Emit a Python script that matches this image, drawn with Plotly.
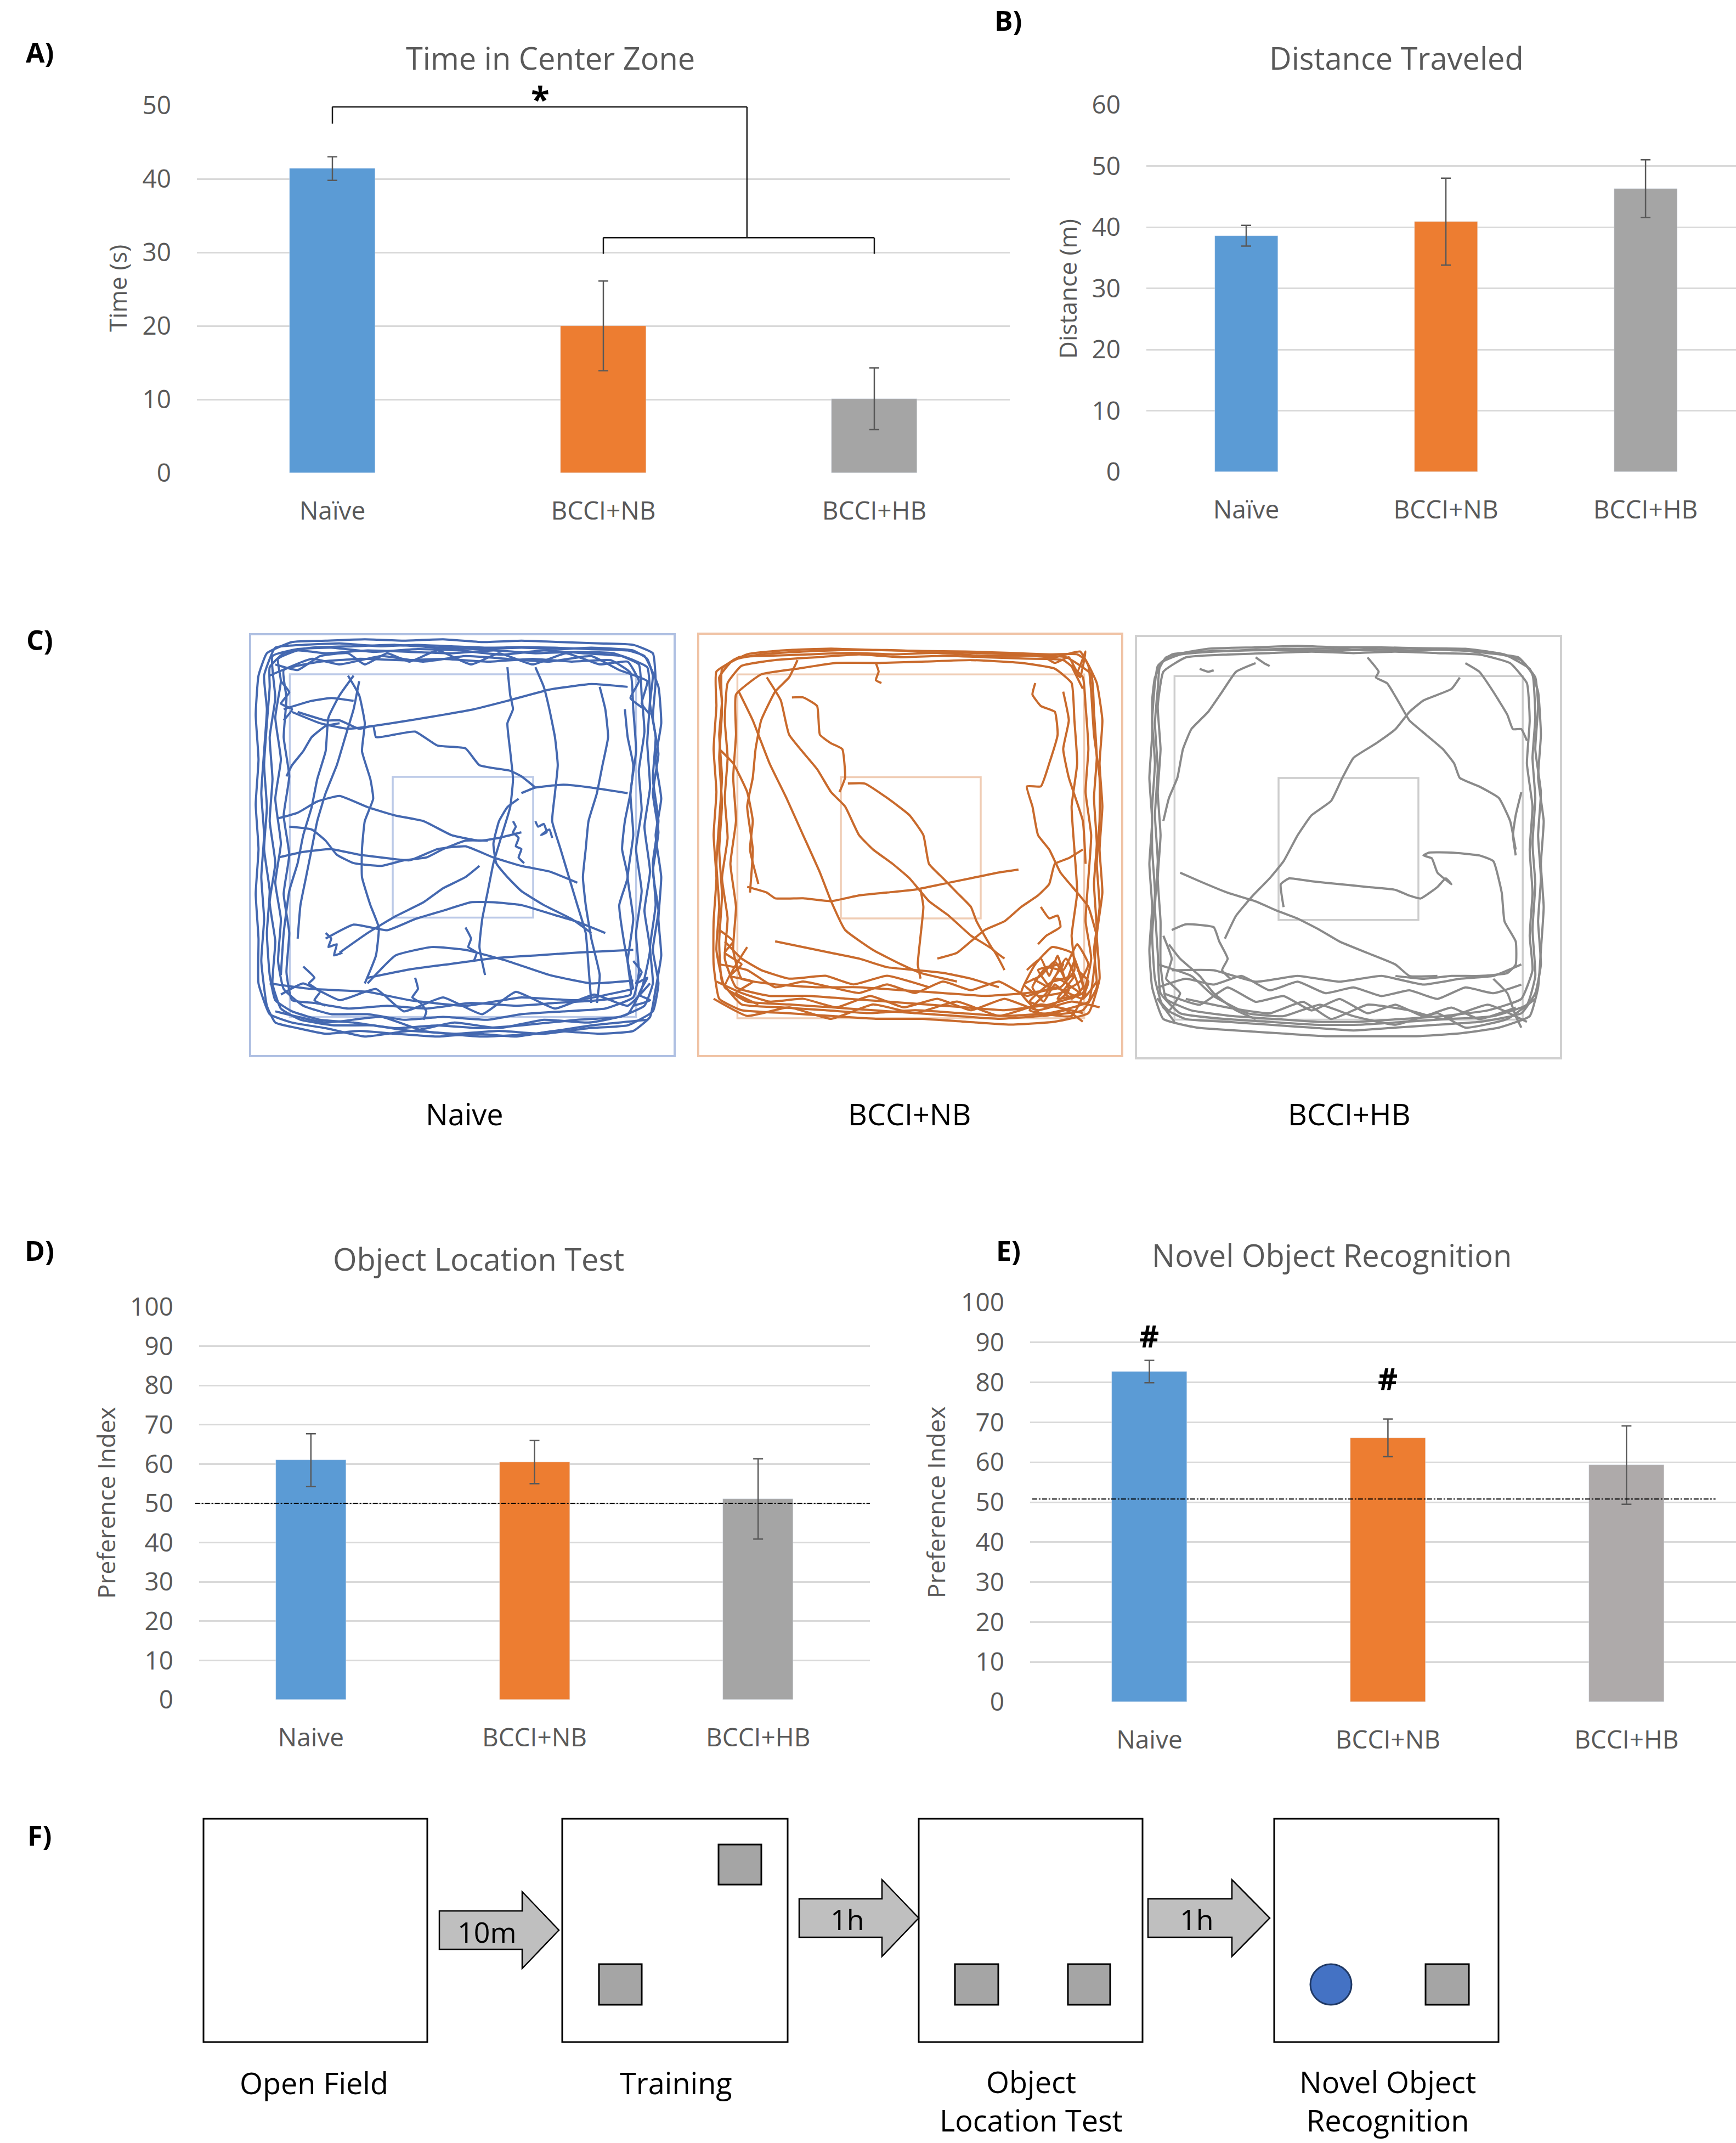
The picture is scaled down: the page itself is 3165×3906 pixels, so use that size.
import plotly.graph_objects as go

# ---------------- data ----------------
CATS_AB = ["Naïve", "BCCI+NB", "BCCI+HB"]
CATS_DE = ["Naive", "BCCI+NB", "BCCI+HB"]
TIME_CENTER = [41.4, 20.0, 10.1]
TIME_CENTER_ERR = [1.6, 6.1, 4.2]
DISTANCE = [38.6, 40.9, 46.3]
DISTANCE_ERR = [1.7, 7.1, 4.7]
OLT_INDEX = [61.0, 60.5, 51.1]
OLT_ERR = [6.7, 5.5, 10.2]
NOR_INDEX = [82.7, 66.1, 59.3]
NOR_ERR = [2.8, 4.7, 9.8]
OLT_CHANCE = 50.0
NOR_CHANCE = 50.8
NOR_HASH_Y = [91.8, 81.0]          # '#' markers above Naive and BCCI+NB
SIG_TOP_Y, SIG_LEFT_END = 49.8, 47.5
SIG_JOIN_X = 1.53
SIG_LOW_Y, SIG_LOW_END = 32.0, 29.8

COLORS = ["#5B9BD5", "#ED7D31", "#A5A5A5"]
COLORS_E = ["#5B9BD5", "#ED7D31", "#AEAAAA"]
TXT = "#595959"
GRID = "#D9D9D9"
FONT = "Open Sans"

# ---- open-field tracks (arena units, y measured downward) ----
NAIVE_RANGE = ([3.0, 154.8], [154.0, 3.2])
NAIVE_INNER = [17.2, 141.0, 17.5, 140.0]
NAIVE_CENTER = [54.0, 104.2, 54.2, 104.5]
NAIVE_PATHS = [
    [(10,15),(15,10),(25,8),(40,7.5),(55,7),(70,8),(85,8.5),(100,8),(115,8.5),(125,8),(140,9),(145,12),(147,18),(146,28),(148,40),(147,55),(149,70),(147,85),(148,100),(146,115),(147,128),(144,136),(135,140),(120,141),(100,143),(85,144),(70,143),(55,144),(40,142),(28,141),(18,138),(12,134),(10,125),(9,110),(10,95),(8,80),(9,65),(8,50),(9,35),(10,22),(10,15)],
    [(13,12),(20,9),(30,10),(45,9),(60,9.5),(75,10),(90,9),(105,10),(120,9.5),(133,10),(142,14),(143,25),(144,38),(142,52),(143,66),(141,80),(143,95),(141,110),(142,124),(140,133),(130,137),(115,138),(100,139),(88,141),(72,140),(58,141),(45,139),(32,139),(22,136),(15,130),(13,120),(14,105),(12,92),(14,78),(12,62),(14,48),(12,33),(14,20),(13,12)],
    [(12,8),(22,7),(35,6.5),(50,7.5),(62,7),(75,7.5),(88,8),(100,7.8),(112,8),(124,8.5),(138,9),(144,11),(149,22),(150,35),(148,48),(150,62),(148,75),(150,90),(149,105),(150,118),(148,130),(146,140),(140,145),(128,146),(112,145),(98,147),(84,146),(70,147),(55,146),(42,145),(30,146),(20,144),(12,142),(9,136),(7,120),(8,105),(7,90),(8,75),(7,60),(8,45),(9,30),(8,18),(12,8)],
    [(15,16),(28,13),(42,12),(58,12.5),(72,12),(88,13),(104,12),(118,13),(132,12.5),(139,17),(140,30),(141,45),(139,60),(140,75),(138,90),(140,105),(138,120),(139,132),(128,134),(112,135),(98,136),(82,135),(66,137),(52,136),(38,137),(26,135),(18,134),(16,124),(17,110),(15,96),(17,82),(15,68),(17,54),(15,40),(16,26),(15,16)],
    [(11,11),(20,8.5),(32,8),(47,9.5),(63,8.5),(78,9),(93,10.5),(108,9),(122,10),(136,11),(145,15),(146,26),(145,42),(146,58),(144,72),(146,88),(144,102),(146,116),(143,130),(138,139),(124,142),(108,141),(92,144),(76,142),(61,145),(47,143),(33,143),(21,141),(14,137),(11,128),(12,113),(10,99),(12,85),(10,70),(11,55),(10,40),(12,26),(11,11)],
    [(9,10),(18,6),(30,5.5),(44,5),(58,5.5),(72,5),(86,6),(100,5.5),(114,6),(128,6.5),(140,7),(147,10),(148,20),(147,33),(149,46),(147,60),(149,74),(147,88),(149,102),(147,116),(149,128),(147,138),(138,143),(124,144),(108,146),(92,145),(76,146),(60,145),(44,147),(30,144),(18,142),(10,139),(6,128),(6,112),(5,96),(6,80),(5,64),(6,48),(5,32),(6,18),(9,10)],
    [(10,128),(25,130),(45,131),(60,134),(80,136),(100,133),(120,134),(140,130)],
    [(12,138),(30,142),(50,140),(65,145),(85,147),(105,146),(125,143),(145,141)],
    [(14,132),(22,128),(35,134),(48,130),(58,138),(72,133),(86,139),(98,131),(112,137),(126,132),(138,136),(146,128)],
    [(10,18),(25,12),(35,14),(50,11),(65,13),(80,11),(95,12),(110,13),(125,11),(135,16),(145,20),(143,28),(146,32)],
    [(12,14),(20,16),(28,11),(38,10),(44,14),(52,10),(60,13),(70,9),(82,14),(92,10),(104,14),(116,10),(128,14),(138,13),(142,20),(139,26),(144,30)],
    [(18,31),(28,35),(38,37),(47,36),(60,34),(72,32),(83,30),(95,27),(110,23),(125,21),(138,22)],
    [(20,31),(30,34),(35,34),(42,37),(47,36),(48,40),(55,39),(62,38),(70,43),(80,44),(85,50),(96,52),(100,54),(105,58)],
    [(38,18),(42,25),(44,35),(43,45),(46,55),(47,62),(44,70),(43,80),(43,90),(46,100),(49,108),(48,118),(44,128)],
    [(95,15),(96,25),(97,30),(95,35),(96,45),(97,55),(96,65),(93,75),(90,85),(88,95),(86,105),(85,115),(87,125)],
    [(105,15),(108,22),(110,30),(112,40),(113,50),(112,60),(111,70),(114,80),(117,90),(120,100),(123,110),(124,122),(125,135)],
    [(128,22),(130,30),(131,40),(129,50),(127,60),(124,70),(123,80),(122,90),(123,100),(125,112),(128,125),(127,135)],
    [(137,30),(138,40),(140,50),(139,60),(137,70),(136,80),(138,90),(135,100),(137,115),(140,130)],
    [(40,18),(35,25),(31,33),(30,45),(27,55),(25,65),(22,75),(20,85),(17,95),(15,110),(14,125)],
    [(42,20),(40,30),(37,40),(34,50),(30,60),(27,70),(25,80),(23,90),(21,100),(20,112)],
    [(13,69),(20,67),(27,63),(35,61),(45,65),(55,68),(65,70),(75,75),(85,77),(92,76),(100,74)],
    [(13,83),(22,81),(32,80),(42,82),(50,83),(60,84),(70,80),(80,79),(90,83),(100,86),(110,88),(120,92)],
    [(17,72),(25,73),(30,77),(34,82),(40,85),(50,86),(58,84),(66,83),(72,80),(80,77),(88,77)],
    [(100,60),(105,58),(115,57),(125,58),(138,60)],
    [(99,62),(95,65),(92,70),(90,78),(91,85),(95,90),(100,95),(108,100),(118,105),(125,110)],
    [(30,112),(40,107),(52,109),(62,105),(72,102),(82,99),(90,99),(100,100),(110,103),(120,106),(130,110)],
    [(35,117),(45,110),(55,104),(65,99),(72,94),(80,90),(85,86)],
    [(45,126),(60,123),(75,121),(90,119),(105,118),(120,117),(140,116)],
    [(45,128),(55,118),(68,115),(80,116),(95,120),(110,125),(125,128),(140,127)],
    [(16,54),(18,50),(22,45),(25,40),(30,36),(35,35)],
    [(15,30),(25,27),(32,26),(40,27)],
    [(97,70),(98,72),(97,74),(99,76),(98,79),(100,80),(99,83),(101,85)],
    [(105,70),(106,72),(108,71),(109,74),(107,75),(110,73),(111,76)],
    [(30,110),(32,112),(31,115),(34,114),(33,118),(36,117)],
    [(62,126),(63,130),(61,133),(64,135),(66,138),(65,141)],
    [(22,122),(26,126),(24,128),(28,131),(26,134),(30,136)],
    [(80,108),(82,112),(81,115),(84,117),(83,120)],
    [(140,120),(143,124),(141,128),(145,126),(142,132),(146,134),(140,136)],
    [(14,20),(17,24),(14,28),(18,30),(15,34)],
]

NB_RANGE = ([2.5, 154.1], [152.0, 4.8])
NB_INNER = [16.5, 140.5, 19.0, 138.8]
NB_CENTER = [53.5, 103.5, 54.8, 104.0]
NB_PATHS = [
    [(10,20),(15,14),(25,12),(40,11),(55,10.5),(70,10.5),(85,11),(100,11.5),(115,12),(130,13),(139,11),(142,16),(143,25),(144,40),(146,55),(146,70),(145,85),(146,100),(144,115),(145,128),(140,136),(125,138),(110,139),(95,138),(80,137),(65,136),(50,135),(35,134),(20,133),(12,128),(9,115),(10,100),(9,85),(10,70),(11,55),(10,40),(11,28),(10,20)],
    [(13,22),(18,16),(30,14),(45,13),(60,12),(75,13),(90,12.5),(105,13),(120,13.5),(133,14),(140,20),(141,30),(142,45),(141,60),(143,75),(142,90),(141,105),(143,118),(140,130),(128,134),(112,136),(98,135),(84,134),(70,133),(56,132),(42,131),(28,131),(16,128),(12,118),(13,104),(11,90),(13,76),(12,62),(13,48),(12,35),(13,22)],
    [(9,18),(20,12),(35,10.5),(50,10),(66,10.5),(82,10.8),(98,11),(114,11.5),(128,12),(138,12),(141,14),(145,22),(147,35),(146,50),(147,65),(146,80),(147,95),(145,110),(146,125),(142,137),(130,140),(114,141),(98,140),(82,139),(66,139),(50,138),(34,137),(18,136),(10,132),(8,120),(8,105),(9,90),(8,75),(9,60),(8,45),(9,30),(9,18)],
    [(16,26),(25,19),(38,17),(52,15),(68,15),(84,14.5),(100,14),(118,15),(130,17),(136,22),(137,35),(138,50),(136,65),(137,80),(138,95),(136,110),(137,122),(132,128),(120,130),(105,131),(90,130),(75,129),(60,128),(45,128),(30,127),(18,125),(15,115),(16,100),(14,85),(16,70),(15,55),(16,40),(16,26)],
    [(11,17),(17,13),(28,12.5),(42,12),(57,11.5),(72,12),(88,11.5),(104,12.5),(120,12.5),(134,13),(143,19),(144,32),(145,48),(144,62),(145,78),(144,92),(145,108),(144,122),(142,133),(128,137),(112,138),(96,137),(80,136),(64,137),(48,136),(32,135),(18,134),(11,126),(10,112),(11,96),(10,80),(11,64),(10,48),(11,32),(11,17)],
    [(10,120),(20,122),(30,128),(40,126),(50,128),(60,130),(70,127),(80,130),(90,126),(100,129),(110,126),(120,131),(130,128),(140,132),(145,126)],
    [(8,132),(20,138),(35,135),(50,139),(65,134),(80,137),(95,133),(110,138),(125,134),(140,137)],
    [(12,112),(18,118),(25,122),(35,125),(48,124),(58,127),(70,124),(85,128)],
    [(9,126),(18,130),(28,133),(40,132),(52,135),(64,131),(76,135),(88,132),(100,136),(112,132),(124,136),(136,133),(146,135)],
    [(10,108),(15,112),(12,116),(18,120),(14,124),(22,126),(16,130),(24,134),(12,128),(20,114)],
    [(120,122),(125,118),(128,124),(131,117),(134,126),(137,119),(140,128),(136,132),(130,127),(126,133),(122,128),(127,121),(133,122),(138,113),(142,120),(139,126),(132,130),(124,131),(119,127),(125,124),(130,119),(135,129),(128,135),(121,133),(131,125),(141,131),(136,116),(129,114),(123,120),(118,130),(126,138),(134,136),(140,140)],
    [(122,125),(128,128),(124,122),(133,120),(129,126),(137,124),(131,132),(139,130),(134,118),(127,130),(121,136),(136,138),(142,126),(138,122)],
    [(125,12),(130,15),(135,13),(138,18),(141,11),(139,20),(136,16),(140,24)],
    [(17,25),(22,35),(28,50),(34,62),(40,75),(46,88),(50,98),(55,108),(65,115),(75,120),(82,123),(95,126)],
    [(27,20),(32,28),(35,40),(45,52),(50,60),(55,65),(60,75),(65,80),(72,85),(78,90),(85,98),(92,103),(100,110),(108,115),(112,122)],
    [(38,14),(35,20),(30,25),(25,35),(23,45),(22,55),(20,65),(22,80),(21,95)],
    [(36,27),(40,27),(45,30),(46,40),(50,43),(54,45),(55,55),(53,60)],
    [(56,57),(62,57),(70,62),(78,68),(83,75),(85,85),(90,90),(95,95),(100,100),(102,105),(108,115),(112,118)],
    [(20,93),(27,95),(30,97),(40,97),(50,98),(60,96),(70,95),(80,94),(90,92),(100,90),(110,88),(117,87)],
    [(30,112),(40,114),(50,116),(60,118),(70,121),(80,122),(90,123),(100,125),(110,128)],
    [(82,94),(83,100),(82,110),(81,120),(82,125)],
    [(140,80),(135,83),(130,85),(128,92),(124,96),(118,100),(112,105),(105,108),(100,112),(95,116),(88,118)],
    [(123,22),(122,26),(125,30),(130,32),(131,40),(128,50),(125,58),(120,58),(122,65),(124,75),(128,80),(132,88),(138,95),(142,100),(145,110)],
    [(133,25),(135,35),(133,45),(135,55),(140,70),(141,85)],
    [(10,45),(15,50),(20,60),(22,70),(21,80),(24,92)],
    [(66,15),(67,18),(66,21),(68,22)],
    [(125,100),(128,104),(131,103),(132,107),(127,110),(124,113)],
]

HB_RANGE = ([2.2, 154.2], [152.7, 5.5])
HB_INNER = [16.0, 140.5, 19.5, 139.2]
HB_CENTER = [53.2, 103.2, 55.0, 104.5]
HB_PATHS = [
    [(10,16),(15,12),(25,11),(40,10.5),(55,10),(70,10),(85,10.5),(100,10),(115,10.5),(128,11),(140,14),(145,20),(146,30),(145,45),(147,60),(146,75),(147,90),(146,105),(147,120),(145,130),(140,137),(125,140),(110,141),(95,142),(80,143),(65,142),(50,141),(35,140),(20,139),(12,135),(9,125),(8,110),(9,95),(8,80),(8,65),(9,50),(8,35),(9,22),(10,16)],
    [(12,18),(20,13),(35,12),(50,11.5),(65,11),(80,11.5),(95,11),(110,11.5),(125,12),(136,15),(142,22),(143,35),(142,50),(144,65),(143,80),(144,95),(143,110),(144,122),(140,132),(128,136),(112,138),(97,139),(82,140),(67,140),(52,139),(37,138),(22,136),(13,132),(11,120),(11,105),(10,90),(11,75),(10,60),(11,45),(10,30),(12,18)],
    [(9,20),(13,13),(28,10),(45,9.5),(60,9),(75,9.5),(90,9.5),(105,9.8),(120,10),(134,12),(143,17),(146,25),(147,40),(146,55),(148,70),(147,85),(148,100),(147,115),(146,128),(143,138),(132,142),(118,144),(102,145),(86,145),(70,145),(54,144),(38,143),(24,142),(12,139),(8,128),(7,115),(8,100),(7,85),(8,70),(7,55),(8,40),(8,28),(9,20)],
    [(11,15),(18,12),(30,11),(44,10.5),(58,10.5),(72,10.8),(86,10.2),(100,10.8),(114,10.2),(128,11.5),(139,13),(144,19),(145,34),(144,48),(145,62),(144,78),(145,92),(144,108),(145,124),(142,134),(130,138),(114,139),(98,140),(82,141),(66,141),(50,140),(34,139),(18,137),(11,130),(10,116),(9,100),(10,84),(9,68),(10,52),(9,36),(10,24),(11,15)],
    [(10,128),(20,125),(30,127),(40,124),(50,129),(60,126),(70,130),(80,128),(90,131),(100,129),(110,132),(120,128),(130,130),(140,127)],
    [(12,130),(25,134),(35,128),(45,133),(55,131),(65,136),(75,132),(85,137),(95,134),(105,138),(115,135),(125,139),(138,135)],
    [(10,120),(22,124),(30,131),(42,137),(55,138),(68,134),(80,138),(95,141),(110,137),(120,142),(135,139),(145,132)],
    [(15,122),(30,122),(45,126),(60,124),(75,126),(90,124),(105,127),(118,125),(130,124),(140,120)],
    [(20,132),(35,135),(50,137),(62,133),(72,139),(85,134),(100,136),(112,139),(128,134),(142,140)],
    [(14,113),(18,118),(25,124),(30,130),(38,136),(45,139)],
    [(130,125),(135,130),(138,138),(140,142)],
    [(12,110),(15,118),(13,125),(18,130),(14,136),(10,132),(16,140)],
    [(18,88),(25,91),(35,95),(45,98),(52,101),(60,104),(68,108),(75,112),(85,116),(95,120),(100,124),(110,124)],
    [(34,111),(38,103),(44,96),(50,90),(55,84),(60,75),(65,68),(72,63),(76,55),(80,48),(88,43),(95,38),(100,32),(105,28),(115,24),(118,20)],
    [(45,15),(38,18),(33,25),(28,32),(22,38),(19,45),(17,55),(14,62),(12,70)],
    [(85,13),(89,18),(88,20),(92,22),(97,30),(100,35),(106,40),(112,45),(116,50),(118,55),(125,58),(132,62),(136,70),(138,80)],
    [(55,100),(54,92),(57,90),(65,91),(75,92),(85,93),(95,94),(100,96),(104,97),(110,93),(113,90),(115,92),(110,88),(108,83),(105,82),(107,81),(115,81),(125,82),(130,84),(133,95),(134,105),(138,112),(138,120),(135,123),(125,124),(115,124),(105,125),(95,124)],
    [(15,108),(20,106),(30,107),(32,112),(35,118),(33,122),(36,125)],
    [(120,15),(125,18),(130,25),(135,33),(137,38),(140,38),(142,42)],
    [(140,60),(138,68),(137,75),(138,82)],
    [(25,17),(28,18),(30,17.5)],
    [(45,13),(48,15),(50,16)],
]

# ---------------- figure ----------------
W, H = 3165, 3906


def px(x, y):
    return x / W, 1 - y / H


def flatten(paths):
    xs, ys = [], []
    for p in paths:
        for a, b in p:
            xs.append(a)
            ys.append(b)
        xs.append(None)
        ys.append(None)
    return xs, ys


fig = go.Figure()
err_style = dict(type="data", color=TXT, thickness=2.5, width=9, visible=True)

fig.add_trace(go.Bar(x=[0, 1, 2], y=TIME_CENTER, width=0.316, marker_color=COLORS,
                     error_y=dict(array=TIME_CENTER_ERR, **err_style),
                     xaxis="x", yaxis="y", showlegend=False))
fig.add_trace(go.Bar(x=[0, 1, 2], y=DISTANCE, width=0.316, marker_color=COLORS,
                     error_y=dict(array=DISTANCE_ERR, **err_style),
                     xaxis="x2", yaxis="y2", showlegend=False))
fig.add_trace(go.Bar(x=[0, 1, 2], y=OLT_INDEX, width=0.314, marker_color=COLORS,
                     error_y=dict(array=OLT_ERR, **err_style),
                     xaxis="x6", yaxis="y6", showlegend=False))
fig.add_trace(go.Bar(x=[0, 1, 2], y=NOR_INDEX, width=0.315, marker_color=COLORS_E,
                     error_y=dict(array=NOR_ERR, **err_style),
                     xaxis="x7", yaxis="y7", showlegend=False))

for paths, col, ax in [(NAIVE_PATHS, "#4468B0", "3"), (NB_PATHS, "#C96A2C", "4"), (HB_PATHS, "#8A8A8A", "5")]:
    xs, ys = flatten(paths)
    fig.add_trace(go.Scatter(x=xs, y=ys, mode="lines", connectgaps=False,
                             line=dict(color=col, width=4, shape="spline", smoothing=0.4),
                             xaxis="x" + ax, yaxis="y" + ax, showlegend=False, hoverinfo="skip"))

fig.add_trace(go.Scatter(x=[None], y=[None], xaxis="x8", yaxis="y8", showlegend=False))


def bar_axes(n, xdom, ydom, xrng, yrng, dtick, cats):
    xa = dict(domain=xdom, range=xrng, tickvals=[0, 1, 2], ticktext=cats, showgrid=False,
              zeroline=False, showline=False, ticks="", ticklabelstandoff=38, automargin=False,
              tickfont=dict(family=FONT, size=46, color=TXT), anchor="y" + n)
    ya = dict(domain=ydom, range=yrng, dtick=dtick, showgrid=True, gridcolor=GRID, gridwidth=3,
              zeroline=False, showline=False, ticks="", ticklabelstandoff=46, automargin=False,
              tickfont=dict(family=FONT, size=46, color=TXT), anchor="x" + n)
    return xa, ya


lay = {}
xa, ya = bar_axes("", [359 / W, 1841 / W], [1 - 862 / H, 1 - 192 / H], [-0.5, 2.5], [0, 50], 10, CATS_AB)
xa["anchor"], ya["anchor"] = "y", "x"
lay["xaxis"], lay["yaxis"] = xa, ya
xa, ya = bar_axes("2", [2090 / W, 1.0], [1 - 860 / H, 1 - 191 / H], [-0.5, 2.453], [0, 60], 10, CATS_AB)
lay["xaxis2"], lay["yaxis2"] = xa, ya
xa, ya = bar_axes("6", [363 / W, 1586 / W], [1 - 3098 / H, 1 - 2382 / H], [-0.5, 2.5], [0, 100], 10, CATS_DE)
lay["xaxis6"], lay["yaxis6"] = xa, ya
xa, ya = bar_axes("7", [1878 / W, 1.0], [1 - 3102 / H, 1 - 2374 / H], [-0.5, 2.459], [0, 100], 10, CATS_DE)
lay["xaxis7"], lay["yaxis7"] = xa, ya

arena_dom = {
    "3": ([456 / W, 1230 / W], [1 - 1925 / H, 1 - 1156 / H], NAIVE_RANGE),
    "4": ([1273 / W, 2046 / W], [1 - 1925 / H, 1 - 1155 / H], NB_RANGE),
    "5": ([2071 / W, 2846 / W], [1 - 1929 / H, 1 - 1159 / H], HB_RANGE),
}
for n, (xd, yd, rng) in arena_dom.items():
    lay["xaxis" + n] = dict(domain=xd, range=rng[0], visible=False, anchor="y" + n, automargin=False)
    lay["yaxis" + n] = dict(domain=yd, range=rng[1], visible=False, anchor="x" + n, automargin=False)

lay["xaxis8"] = dict(domain=[0, 1], range=[0, W], visible=False, anchor="y8", automargin=False)
lay["yaxis8"] = dict(domain=[0, 664 / H], range=[H, H - 664], visible=False, anchor="x8", automargin=False)

shapes = []
blk = dict(color="#1A1A1A", width=2.5)
shapes += [
    dict(type="line", xref="x", yref="y", x0=0, x1=SIG_JOIN_X, y0=SIG_TOP_Y, y1=SIG_TOP_Y, line=blk),
    dict(type="line", xref="x", yref="y", x0=0, x1=0, y0=SIG_TOP_Y, y1=SIG_LEFT_END, line=blk),
    dict(type="line", xref="x", yref="y", x0=SIG_JOIN_X, x1=SIG_JOIN_X, y0=SIG_TOP_Y, y1=SIG_LOW_Y, line=blk),
    dict(type="line", xref="x", yref="y", x0=1, x1=2, y0=SIG_LOW_Y, y1=SIG_LOW_Y, line=blk),
    dict(type="line", xref="x", yref="y", x0=1, x1=1, y0=SIG_LOW_Y, y1=SIG_LOW_END, line=blk),
    dict(type="line", xref="x", yref="y", x0=2, x1=2, y0=SIG_LOW_Y, y1=SIG_LOW_END, line=blk),
]
shapes.append(dict(type="line", xref="x6 domain", yref="y6", x0=-0.006, x1=1.0, y0=OLT_CHANCE, y1=OLT_CHANCE,
                   line=dict(color="#000000", width=2, dash="dashdot")))
shapes.append(dict(type="line", xref="x7 domain", yref="y7", x0=0.003, x1=0.971, y0=NOR_CHANCE, y1=NOR_CHANCE,
                   line=dict(color="#000000", width=2, dash="dashdot")))

arena_cols = {"3": ("#AFC0E2", "#BCCAE8"), "4": ("#F0C3A5", "#F0CDB5"), "5": ("#D0D0D0", "#CDCDCD")}
arena_geo = {"3": (NAIVE_INNER, NAIVE_CENTER), "4": (NB_INNER, NB_CENTER), "5": (HB_INNER, HB_CENTER)}
for n, (outer_c, inner_c) in arena_cols.items():
    shapes.append(dict(type="rect", xref="x%s domain" % n, yref="y%s domain" % n, x0=0, x1=1, y0=0, y1=1,
                       line=dict(color=outer_c, width=4), layer="below"))
    for g in arena_geo[n]:
        shapes.append(dict(type="rect", xref="x" + n, yref="y" + n, x0=g[0], x1=g[1], y0=g[2], y1=g[3],
                           line=dict(color=inner_c, width=3.5), layer="below"))

F_BOXES = [(371, 779), (1025, 1436), (1675, 2083), (2323, 2732)]
for x0, x1 in F_BOXES:
    shapes.append(dict(type="rect", xref="x8", yref="y8", x0=x0, x1=x1, y0=3315, y1=3722,
                       line=dict(color="black", width=3), fillcolor="white"))
sq = dict(line=dict(color="black", width=3), fillcolor="#A5A5A5")
for x0, x1, y0, y1 in [(1310, 1388, 3362, 3435), (1092, 1170, 3580, 3654),
                       (1741, 1820, 3580, 3654), (1947, 2024, 3580, 3654), (2599, 2678, 3580, 3654)]:
    shapes.append(dict(type="rect", xref="x8", yref="y8", x0=x0, x1=x1, y0=y0, y1=y1, **sq))
shapes.append(dict(type="circle", xref="x8", yref="y8", x0=2389, x1=2464, y0=3580, y1=3654,
                   line=dict(color="#1F3864", width=3), fillcolor="#4472C4"))
for bx0, hx, tip, cy in [(801, 952, 1019, 3518), (1457, 1608, 1675, 3496), (2093, 2246, 2315, 3496)]:
    bh, hh = 35, 70
    path = (f"M {bx0} {cy - bh} L {hx} {cy - bh} L {hx} {cy - hh} L {tip} {cy} L {hx} {cy + hh} "
            f"L {hx} {cy + bh} L {bx0} {cy + bh} Z")
    shapes.append(dict(type="path", xref="x8", yref="y8", path=path,
                       line=dict(color="black", width=2.5), fillcolor="#BFBFBF"))

ann = []


def text(x, y, s, size, color=TXT, bold=False, angle=0, ref=None):
    if ref is None:
        xx, yy = px(x, y)
        d = dict(xref="paper", yref="paper", x=xx, y=yy)
    else:
        d = dict(xref="x" + ref, yref="y" + ref, x=x, y=y)
    d.update(text=("<b>%s</b>" % s) if bold else s, showarrow=False, textangle=angle,
             xanchor="center", yanchor="middle",
             font=dict(family=FONT, size=size, color=color))
    ann.append(d)


text(1003, 105, "Time in Center Zone", 56)
text(2546, 105, "Distance Traveled", 56)
text(872, 2294, "Object Location Test", 56)
text(2428, 2287, "Novel Object Recognition", 56)
text(214, 525, "Time (s)", 44, angle=-90)
text(1946, 526, "Distance (m)", 44, angle=-90)
text(193, 2739, "Preference Index", 44, angle=-90)
text(1706, 2738, "Preference Index", 44, angle=-90)
for lbl, x, y in [("A)", 72, 95), ("B)", 1838, 37), ("C)", 72, 1166), ("D)", 72, 2279), ("E)", 1838, 2279), ("F)", 72, 3345)]:
    text(x, y, lbl, 50, color="black", bold=True)
text(985, 180, "*", 62, color="black", bold=True)
for i, yv in enumerate(NOR_HASH_Y):
    ann.append(dict(xref="x7", yref="y7", x=i, y=yv, text="<b>#</b>", showarrow=False,
                    font=dict(family=FONT, size=56, color="black")))
text(847, 2030, "Naive", 54, color="black")
text(1658, 2030, "BCCI+NB", 54, color="black")
text(2460, 2030, "BCCI+HB", 54, color="black")
for s, x, y in [("10m", 888, 3520), ("1h", 1545, 3497), ("1h", 2182, 3497)]:
    text(x, y, s, 52, color="black", ref="8")
for s, x, y in [("Open Field", 572, 3796), ("Training", 1232, 3796),
                ("Object<br>Location Test", 1880, 3829), ("Novel Object<br>Recognition", 2530, 3829)]:
    text(x, y, s, 54, color="black", ref="8")

fig.update_layout(width=W, height=H, margin=dict(l=0, r=0, t=0, b=0, pad=0, autoexpand=False),
                  paper_bgcolor="white", plot_bgcolor="white", shapes=shapes, annotations=ann,
                  bargap=0, showlegend=False, **lay)
fig.write_html("out.html", config={"displayModeBar": False},
               post_script="document.body.style.margin='0px';document.body.style.padding='0px';")
